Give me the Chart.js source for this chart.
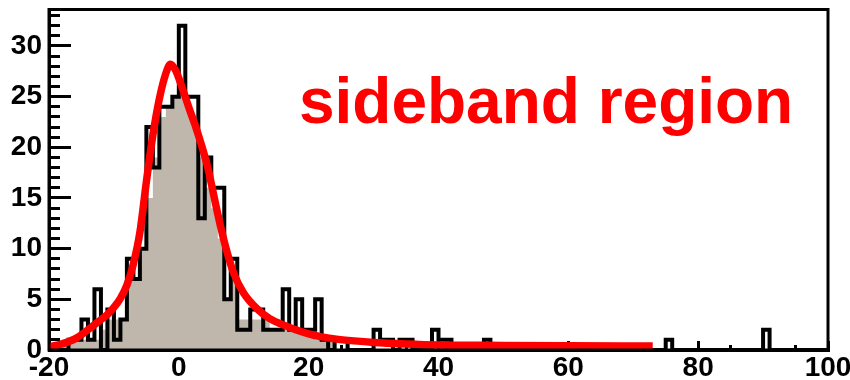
<!DOCTYPE html>
<html>
<head>
<meta charset="utf-8">
<title>sideband region</title>
<script src="https://cdn.jsdelivr.net/npm/chart.js@4.4.1/dist/chart.umd.min.js"></script>
<style>
  html, body { margin: 0; padding: 0; background: #fff; }
  #wrap { width: 850px; height: 380px; }
</style>
</head>
<body>
<div id="wrap"><canvas id="sideband" width="850" height="380"></canvas></div>
<script>
// binning of the histogram
const xMin = -20;
const xMax = 100;
const binWidth = 1;
const yMax = 33.6;

// axis ticks
const xTickStep = 20;
const xMinorStep = 5;
const yTickStep = 5;
const yMinorStep = 1;

// entries per bin, first bin starts at -20
const binCounts = [
  0, 0, 0, 1, 1, 3, 1, 6, 0, 4,        // -20 .. -11
  1, 3, 9, 7, 10, 22, 18, 24, 24, 25,  // -10 .. -1
  32, 25, 25, 13, 19, 16, 16, 5, 9, 2, // 0 .. 9
  2, 4, 4, 2, 2, 2, 6, 2, 5, 2,        // 10 .. 19
  2, 5, 1, 0, 1, 1, 0, 0, 0, 0,        // 20 .. 29
  2, 1, 1, 0, 1, 1, 0, 0, 0, 2,        // 30 .. 39
  1, 1, 0, 0, 0, 0, 0, 1, 0, 0,        // 40 .. 49
  0, 0, 0, 0, 0, 0, 0, 0, 0, 0,        // 50 .. 59
  0, 0, 0, 0, 0, 0, 0, 0, 0, 0,        // 60 .. 69
  0, 0, 0, 0, 0, 1, 0, 0, 0, 0,        // 70 .. 79
  0, 0, 0, 0, 0, 0, 0, 0, 0, 0,        // 80 .. 89
  2, 0, 0, 0, 0, 0, 0, 0, 0, 0         // 90 .. 99
];

// shaded reference histogram, same binning
const shadeCounts = [
  0, 0, 1, 1, 1, 1, 1, 1, 2, 3,        // -20 .. -11
  3, 3, 7, 7, 10, 15, 19, 23, 24, 25,  // -10 .. -1
  25, 24, 22, 19, 16, 14, 11, 5, 7, 3, // 0 .. 9
  3, 3, 3, 3, 2, 2, 2, 2, 2, 2,        // 10 .. 19
  2, 1, 1, 1, 0                        // 20 .. 24
];

// fitted curve
const fitX = [-20, -18, -16, -14, -12, -11, -10, -9, -8, -7, -6, -5, -4, -3, -2, -1.3,
  -0.5, 0.5, 1.5, 2.5, 3.5, 4.5, 5.5, 6.5, 7.5, 8.5, 10, 12, 14, 16, 18, 20,
  22, 24, 27, 30, 35, 40, 50, 60, 73];
const fitY = [0.3, 0.6, 1.1, 2.0, 3.0, 3.5, 4.2, 5.1, 6.4, 8.5, 11.6, 16.6, 21.2, 24.8, 27.3, 28.2,
  27.6, 25.9, 24.0, 22.2, 20.2, 17.9, 14.9, 12.0, 9.5, 7.5, 5.6, 4.1, 3.1, 2.5, 2.0, 1.6,
  1.3, 1.1, 0.9, 0.75, 0.6, 0.5, 0.45, 0.42, 0.4];

// bin low edges with the bin content, plus closing point at the last upper edge
function stepPoints(counts) {
  const pts = counts.map((c, i) => ({ x: xMin + i * binWidth, y: c }));
  pts.push({ x: xMin + counts.length * binWidth, y: counts[counts.length - 1] });
  return pts;
}

const tickFont = { family: '"Liberation Sans", Arial, sans-serif', size: 28, weight: 'bold' };

// fixed axis size, and no extra label padding pushed into the layout
function fixSize(w, h) {
  return s => {
    if (w !== null) s.width = w;
    if (h !== null) s.height = h;
    s.paddingTop = 0; s.paddingBottom = 0; s.paddingLeft = 0; s.paddingRight = 0;
  };
}

// frame round the plot + the text label
const frameAndLabel = {
  id: 'frameAndLabel',
  afterDraw(chart) {
    const { ctx, chartArea: a, scales } = chart;
    ctx.save();
    ctx.fillStyle = '#ff0000';
    ctx.font = 'bold 64px "Liberation Sans", Arial, sans-serif';
    ctx.textBaseline = 'alphabetic';
    ctx.textAlign = 'left';
    ctx.fillText('sideband region', scales.x.getPixelForValue(18.5), scales.y.getPixelForValue(22.4));
    ctx.lineWidth = 3;
    ctx.strokeStyle = '#000';
    ctx.strokeRect(a.left, a.top, a.right - a.left, a.bottom - a.top);
    ctx.restore();
  }
};

new Chart(document.getElementById('sideband'), {
  type: 'line',
  data: {
    datasets: [
      {
        label: 'fit',
        data: fitX.map((x, i) => ({ x: x, y: fitY[i] })),
        borderColor: '#ff0000',
        borderWidth: 7.5,
        pointRadius: 0,
        cubicInterpolationMode: 'monotone',
        fill: false,
        order: 0
      },
      {
        label: 'data',
        data: stepPoints(binCounts),
        stepped: true,
        borderColor: '#000000',
        borderWidth: 4,
        borderJoinStyle: 'miter',
        pointRadius: 0,
        fill: false,
        order: 1
      },
      {
        label: 'shade',
        data: stepPoints(shadeCounts),
        stepped: true,
        borderWidth: 0,
        backgroundColor: 'rgb(191,182,172)',
        fill: 'origin',
        pointRadius: 0,
        order: 2
      }
    ]
  },
  options: {
    responsive: false,
    devicePixelRatio: 1,
    animation: false,
    layout: { autoPadding: false, padding: { top: 9.5, right: 22, left: 0, bottom: 0 } },
    plugins: { legend: { display: false }, tooltip: { enabled: false } },
    scales: {
      x: {
        type: 'linear', position: 'bottom', min: xMin, max: xMax, weight: 1, z: 1,
        ticks: { stepSize: xTickStep, includeBounds: false, autoSkip: false, maxRotation: 0,
                 padding: 10, color: '#000', font: tickFont },
        grid: { drawOnChartArea: false, tickLength: -9, tickWidth: 3, tickColor: '#000' },
        border: { display: true, width: 3, color: '#000' },
        afterFit: fixSize(null, 30)
      },
      xMinor: {
        type: 'linear', position: 'bottom', min: xMin, max: xMax, weight: 0, z: 1,
        ticks: { display: false, stepSize: xMinorStep, includeBounds: false },
        grid: { drawOnChartArea: false, tickLength: -5, tickWidth: 3, tickColor: '#000' },
        border: { display: false },
        afterFit: fixSize(null, 0)
      },
      y: {
        type: 'linear', position: 'left', min: 0, max: yMax, weight: 1, z: 1,
        ticks: { stepSize: yTickStep, includeBounds: false, autoSkip: false,
                 padding: 29, color: '#000', font: tickFont },
        grid: { drawOnChartArea: false, tickLength: -22, tickWidth: 3, tickColor: '#000' },
        border: { display: true, width: 3, color: '#000' },
        afterFit: fixSize(49, null)
      },
      yMinor: {
        type: 'linear', position: 'left', min: 0, max: yMax, weight: 0, z: 1,
        ticks: { display: false, stepSize: yMinorStep, includeBounds: false },
        grid: { drawOnChartArea: false, tickLength: -11, tickWidth: 3, tickColor: '#000' },
        border: { display: false },
        afterFit: fixSize(0, null)
      }
    }
  },
  plugins: [frameAndLabel]
});
</script>
</body>
</html>
